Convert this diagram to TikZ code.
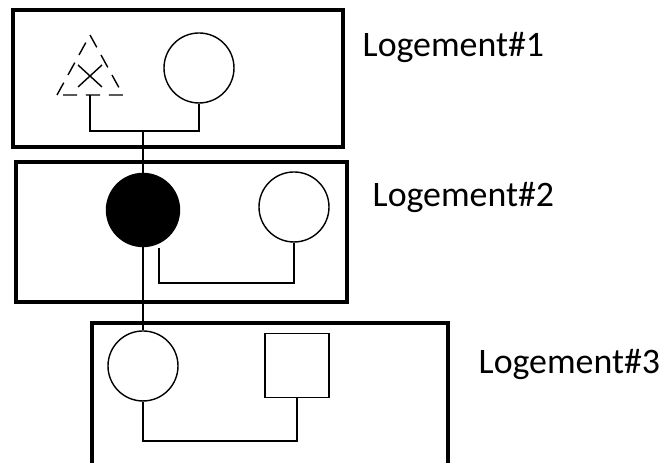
\documentclass[tikz,border=0pt]{standalone}
\usepackage{fontspec}
\setmainfont{Carlito}
\begin{document}
\begin{tikzpicture}[
    box/.style={line width=1.4pt},
    link/.style={line width=0.5pt},
    person/.style={draw, thin, circle, minimum size=0.7cm, inner sep=0pt},
    label/.style={anchor=west, inner sep=0pt, font=\fontsize{10.2}{12}\selectfont}]
  \useasboundingbox (0, 0) rectangle (6.63, 4.63);
  % logement 1
  \draw[box] (0.13, 3.16) rectangle (3.43, 4.53);
  \draw[thin, dash pattern=on 4pt off 2.5pt] (0.57, 3.68) coordinate (t1) -- (0.90, 4.28) -- (1.23, 3.68) -- cycle;
  \coordinate (tb) at (0.90, 3.68);
  \draw[thin] (0.78, 3.76) -- (1.02, 3.98) (0.78, 3.98) -- (1.02, 3.76);
  \node[person] (c1) at (1.99, 3.95) {};
  \coordinate (j1) at (1.43, 3.32);
  \draw[link] (tb) -- (tb |- j1) -| (c1);
  \node[label] (l1) at (3.62, 4.16) {Logement\#1};
  % logement 2
  \draw[box] (0.16, 1.61) rectangle (3.47, 3.01);
  \node[person, fill=black, minimum size=0.73cm] (c2) at (1.43, 2.53) {};
  \node[person] (c4) at (2.94, 2.56) {};
  \coordinate (j2) at (1.59, 2.15);
  \draw[link] (j2) -- (1.59, 1.80) -| (c4);
  \node[label] (l2) at (3.72, 2.66) {Logement\#2};
  % logement 3
  \draw[box] (0.92, -0.1) -- (0.92, 1.40) -- (4.48, 1.40) -- (4.48, -0.1);
  \node[person] (c3) at (1.43, 0.97) {};
  \node[draw, thin, minimum size=0.64cm, inner sep=0pt] (s1) at (2.97, 0.975) {};
  \draw[link] (c3) -- (1.43, 0.22) -| (s1);
  \node[label] (l3) at (4.78, 0.99) {Logement\#3};
  % descent line
  \draw[link] (j1) -- (c3);
\end{tikzpicture}
\end{document}
